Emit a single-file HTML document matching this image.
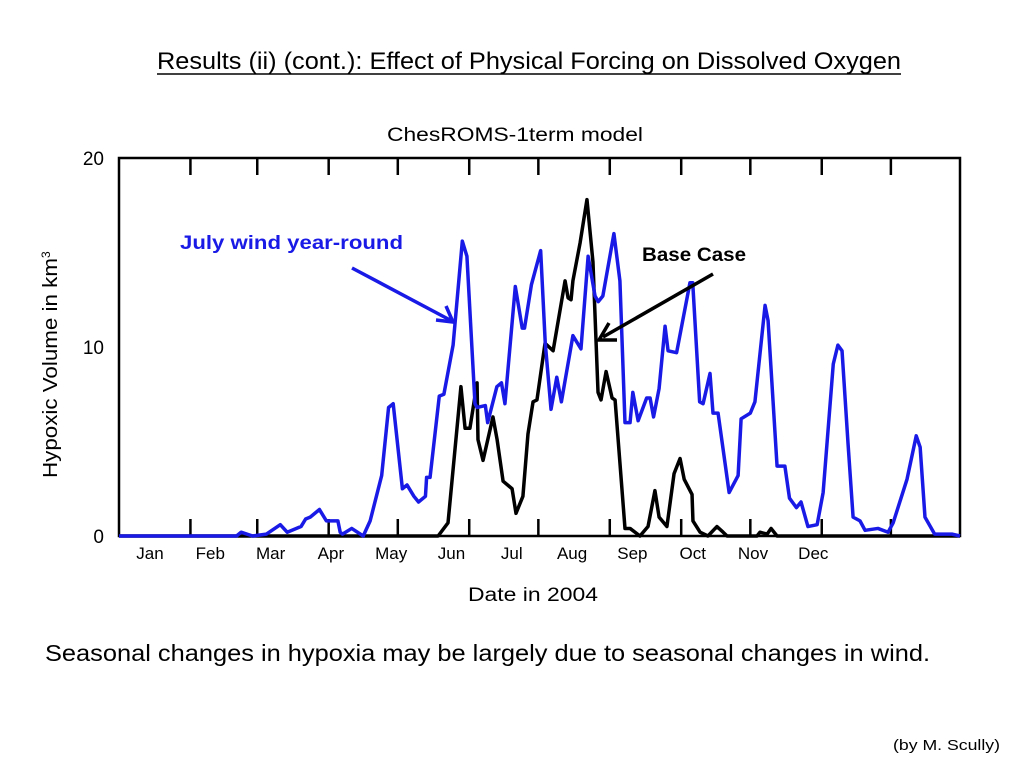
<!DOCTYPE html>
<html><head><meta charset="utf-8"><style>
body{margin:0;width:1024px;height:768px;background:#fff;font-family:"Liberation Sans",sans-serif;overflow:hidden}
svg{position:absolute;left:0;top:0}
</style></head><body>
<svg id="chart" width="1024" height="768" font-family="Liberation Sans, sans-serif">
<text x="157" y="69" font-size="24" textLength="744" lengthAdjust="spacingAndGlyphs">Results (ii) (cont.): Effect of Physical Forcing on Dissolved Oxygen</text>
<line x1="157" y1="74" x2="901" y2="74" stroke="#000" stroke-width="1.5"/>
<text x="387" y="141" font-size="19" textLength="256" lengthAdjust="spacingAndGlyphs">ChesROMS-1term model</text>
<text x="468" y="601" font-size="19" textLength="130" lengthAdjust="spacingAndGlyphs">Date in 2004</text>
<text transform="translate(57,478) rotate(-90)" font-size="20"><tspan textLength="220" lengthAdjust="spacingAndGlyphs">Hypoxic Volume in km</tspan><tspan dy="-7" font-size="12">3</tspan></text>
<text x="45" y="661" font-size="23" textLength="885" lengthAdjust="spacingAndGlyphs">Seasonal changes in hypoxia may be largely due to seasonal changes in wind.</text>
<text x="893" y="750" font-size="15" textLength="107" lengthAdjust="spacingAndGlyphs">(by M. Scully)</text>
<g id="plot"></g>
<text x="180" y="249" font-size="19" font-weight="bold" fill="#1a1ae6" textLength="223" lengthAdjust="spacingAndGlyphs">July wind year-round</text>
<line x1="352" y1="268" x2="450" y2="320" stroke="#1a1ae6" stroke-width="3.5"/>
<polyline points="436,320 453,322 446,306" fill="none" stroke="#1a1ae6" stroke-width="3.5"/>
<text x="642" y="261" font-size="19" font-weight="bold" textLength="104" lengthAdjust="spacingAndGlyphs">Base Case</text>
<line x1="713" y1="274" x2="603" y2="337" stroke="#000" stroke-width="3.5"/>
<polyline points="609,323 599,340 617,340" fill="none" stroke="#000" stroke-width="3.5"/>
</svg>
<script>
const monthLabels=["Jan","Feb","Mar","Apr","May","Jun","Jul","Aug","Sep","Oct","Nov","Dec"];
const monthStarts=[0,31,60,91,121,152,182,213,244,274,305,335];
const yTicks=[0,10,20];
const blueDays=[0,51,53,58,64,70,73,79,81,83,87,90,95,96,97,101,106,109,114,117,119,123,125,128,130,133,133.5,135,139,141,145,149,151,154.5,155.4,159,160,164,166,167.5,172,175,176,179,183,185,187.5,190,192,197,200.5,203.6,206.6,208,210,214.8,217.4,219.6,221.8,223,225.3,229,230.5,232,234.4,237,238.3,242,247.8,249,252,253.5,256.5,257.8,260,264.8,268.7,270,274,276,280.4,281.7,285.6,289,291,294,296,299,303,305.6,310,312,313.8,316.4,318.6,321.6,323.8,329.4,333.8,336,342,346,347.7,349.8,354,361.5,365];
const blueVals=[0,0,0.2,0,0.1,0.6,0.2,0.5,0.9,1.0,1.4,0.8,0.8,0.2,0.1,0.4,0,0.8,3.2,6.8,7.0,2.5,2.7,2.1,1.8,2.1,3.1,3.1,7.4,7.5,10.1,15.6,14.8,7.0,6.8,6.9,6.0,7.9,8.1,7.0,13.2,11.0,11.0,13.3,15.1,10.2,6.7,8.4,7.1,10.6,9.9,14.8,12.7,12.4,12.7,16.0,13.5,6.0,6.0,7.6,6.1,7.3,7.3,6.3,7.8,11.1,9.8,9.7,13.4,13.4,7.1,7.0,8.6,6.5,6.5,2.3,3.2,6.2,6.5,7.1,12.2,11.4,3.7,3.7,2.0,1.5,1.8,0.5,0.6,2.3,9.1,10.1,9.8,4.9,1.0,0.8,0.3,0.4,0.2,0.7,3.0,5.3,4.7,1.0,0.1,0.1,0];
const baseDays=[0,138.5,142.8,148.4,150.2,152.3,155.4,155.8,158,162.3,164.1,166.7,170.6,172.3,175.3,177.5,179.7,181.4,184.9,188.4,193.6,194.9,196.2,197,200.1,203.1,205.7,207.9,209.2,211.4,214,215.3,219.6,221.8,226.1,229.6,232.6,234.4,237.8,240.9,243.5,245.3,248.7,249.1,252.2,255.6,259.5,262.2,263.9,276.9,278.2,281.3,283,285.6,365];
const baseVals=[0,0,0.7,7.9,5.7,5.7,8.1,5.1,4.0,6.3,5.1,2.9,2.5,1.2,2.1,5.4,7.1,7.2,10.2,9.8,13.5,12.6,12.5,13.5,15.5,17.8,14.5,7.6,7.2,8.7,7.3,7.2,0.4,0.4,0,0.5,2.4,1.0,0.5,3.3,4.1,3.0,2.2,0.8,0.2,0,0.5,0.2,0,0,0.2,0.1,0.4,0,0];

const L=119,R=960,T=158,B=536,NS="http://www.w3.org/2000/svg";
const X=d=>L+d*(R-L)/365, Y=v=>B-v*(B-T)/20;
const g=document.getElementById('plot');
function mk(t,a){const e=document.createElementNS(NS,t);for(const k in a)e.setAttribute(k,a[k]);g.appendChild(e);return e;}
const fr=mk('rect',{x:L,y:T,width:R-L,height:B-T,fill:'none',stroke:'#000','stroke-width':2.5});


monthStarts.forEach((d,i)=>{
  if(i>0){
    const t1=mk('line',{x1:X(d),x2:X(d),y1:T,y2:T+17,stroke:'#000','stroke-width':2.5});
    
    
    const t2=mk('line',{x1:X(d),x2:X(d),y1:B-17,y2:B,stroke:'#000','stroke-width':2.5});
    
    
  }
  const lb=mk('text',{x:150+i*60.3,y:559,'font-size':17,'text-anchor':'middle'});
  lb.textContent=monthLabels[i];
  
  
});
yTicks.forEach(v=>{
  const lb=mk('text',{x:104,y:Y(v)+7,'font-size':19,'text-anchor':'end'});
  lb.textContent=v;
  
  
});
function line(days,vals,col,name){
  const p=mk('polyline',{points:days.map((d,i)=>X(d)+','+Y(vals[i])).join(' '),fill:'none',stroke:col,'stroke-width':3.5,'stroke-linejoin':'round'});
  
  
}
line(baseDays,baseVals,'#000','base-case-line');
line(blueDays,blueVals,'#1a1ae6','july-wind-line');
</script>
</body></html>
